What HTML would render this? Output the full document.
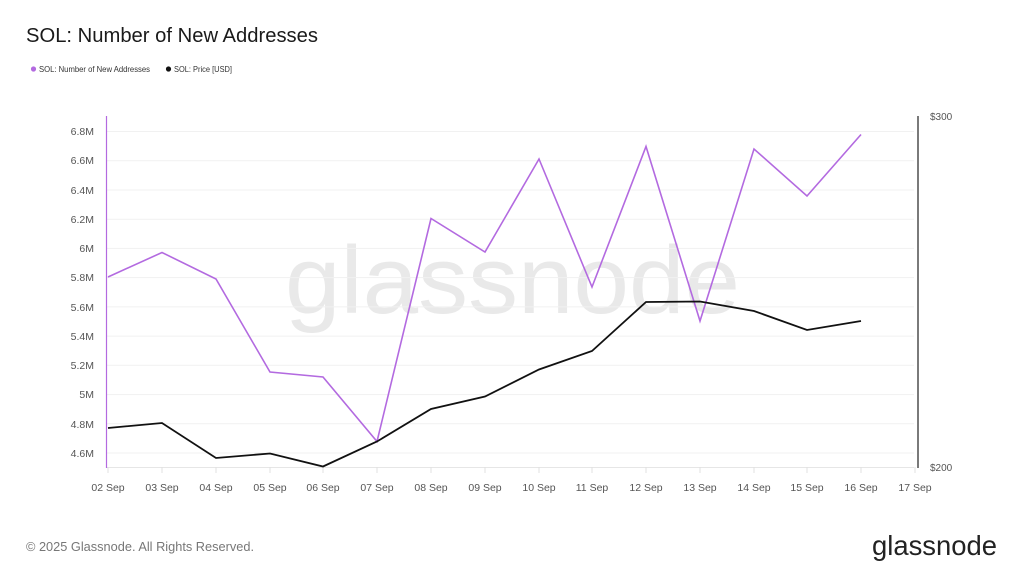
<!DOCTYPE html>
<html><head><meta charset="utf-8"><style>
html,body{margin:0;padding:0;background:#fff;}
svg{display:block;font-family:"Liberation Sans",Arial,sans-serif;}
</style></head><body>
<svg width="1024" height="576" viewBox="0 0 1024 576" xmlns="http://www.w3.org/2000/svg">
<rect width="1024" height="576" fill="#fff"/>
<text x="26" y="42" font-size="20" fill="#1a1a1a" textLength="292" lengthAdjust="spacingAndGlyphs">SOL: Number of New Addresses</text>
<circle cx="33.5" cy="69" r="2.6" fill="#b36ae0"/>
<text x="39" y="72" font-size="8" fill="#333" textLength="111" lengthAdjust="spacingAndGlyphs">SOL: Number of New Addresses</text>
<circle cx="168.5" cy="69" r="2.6" fill="#111"/>
<text x="174" y="72" font-size="8" fill="#333" textLength="58" lengthAdjust="spacingAndGlyphs">SOL: Price [USD]</text>

<!-- watermark -->
<text x="285" y="313" font-size="96" fill="#e9e9e9" textLength="455" lengthAdjust="spacingAndGlyphs">glassnode</text>

<!-- gridlines -->
<g stroke="#f1f1f1" stroke-width="1">
<line x1="107" x2="914" y1="131.5" y2="131.5"/>
<line x1="107" x2="914" y1="160.7" y2="160.7"/>
<line x1="107" x2="914" y1="190" y2="190"/>
<line x1="107" x2="914" y1="219.2" y2="219.2"/>
<line x1="107" x2="914" y1="248.4" y2="248.4"/>
<line x1="107" x2="914" y1="277.6" y2="277.6"/>
<line x1="107" x2="914" y1="306.9" y2="306.9"/>
<line x1="107" x2="914" y1="336.1" y2="336.1"/>
<line x1="107" x2="914" y1="365.3" y2="365.3"/>
<line x1="107" x2="914" y1="394.6" y2="394.6"/>
<line x1="107" x2="914" y1="423.8" y2="423.8"/>
<line x1="107" x2="914" y1="453" y2="453"/>
<line x1="107" x2="914" y1="467.5" y2="467.5" stroke="#e6e6e6"/>
</g>
<!-- x ticks -->
<g stroke="#e0e0e0" stroke-width="1">
<line x1="108" x2="108" y1="467" y2="473"/><line x1="162" x2="162" y1="467" y2="473"/>
<line x1="216" x2="216" y1="467" y2="473"/><line x1="270" x2="270" y1="467" y2="473"/>
<line x1="323" x2="323" y1="467" y2="473"/><line x1="377" x2="377" y1="467" y2="473"/>
<line x1="431" x2="431" y1="467" y2="473"/><line x1="485" x2="485" y1="467" y2="473"/>
<line x1="539" x2="539" y1="467" y2="473"/><line x1="592" x2="592" y1="467" y2="473"/>
<line x1="646" x2="646" y1="467" y2="473"/><line x1="700" x2="700" y1="467" y2="473"/>
<line x1="754" x2="754" y1="467" y2="473"/><line x1="807" x2="807" y1="467" y2="473"/>
<line x1="861" x2="861" y1="467" y2="473"/><line x1="915" x2="915" y1="467" y2="473"/>
</g>

<!-- axes -->
<line x1="106.5" x2="106.5" y1="116" y2="468" stroke="#b36ae0" stroke-width="1.2"/>
<line x1="918" x2="918" y1="116" y2="468" stroke="#222" stroke-width="1.2"/>

<!-- y labels -->
<g font-size="10.5" fill="#555" text-anchor="end">
<text x="94" y="135">6.8M</text><text x="94" y="164">6.6M</text><text x="94" y="194">6.4M</text>
<text x="94" y="223">6.2M</text><text x="94" y="252">6M</text><text x="94" y="281">5.8M</text>
<text x="94" y="311">5.6M</text><text x="94" y="340">5.4M</text><text x="94" y="369">5.2M</text>
<text x="94" y="398">5M</text><text x="94" y="428">4.8M</text><text x="94" y="457">4.6M</text>
</g>
<g font-size="10" fill="#555">
<text x="930" y="120">$300</text><text x="930" y="471">$200</text>
</g>
<!-- x labels -->
<g font-size="10.5" fill="#555" text-anchor="middle">
<text x="108" y="491">02 Sep</text><text x="162" y="491">03 Sep</text><text x="216" y="491">04 Sep</text>
<text x="270" y="491">05 Sep</text><text x="323" y="491">06 Sep</text><text x="377" y="491">07 Sep</text>
<text x="431" y="491">08 Sep</text><text x="485" y="491">09 Sep</text><text x="539" y="491">10 Sep</text>
<text x="592" y="491">11 Sep</text><text x="646" y="491">12 Sep</text><text x="700" y="491">13 Sep</text>
<text x="754" y="491">14 Sep</text><text x="807" y="491">15 Sep</text><text x="861" y="491">16 Sep</text>
<text x="915" y="491">17 Sep</text>
</g>

<!-- series -->
<polyline fill="none" stroke="#b36ae0" stroke-width="1.6" stroke-linejoin="miter" points="108,277 162,252.5 216,279 270,372 323,377 377,441.5 431,218.5 485,252 539,159 592,287 646,146.5 700,321 754,149 807,196 861,134.5"/>
<polyline fill="none" stroke="#111" stroke-width="1.8" stroke-linejoin="miter" points="108,428 162,423 216,458 270,453.5 323,466.5 377,441.5 431,409 485,396.5 539,369.5 592,351 646,302 700,301.5 754,311 807,330 861,321"/>

<!-- footer -->
<text x="26" y="551" font-size="13" fill="#777" textLength="228" lengthAdjust="spacingAndGlyphs">© 2025 Glassnode. All Rights Reserved.</text>
<text x="872" y="555" font-size="28" fill="#222" textLength="125" lengthAdjust="spacingAndGlyphs">glassnode</text>
</svg>
</body></html>
